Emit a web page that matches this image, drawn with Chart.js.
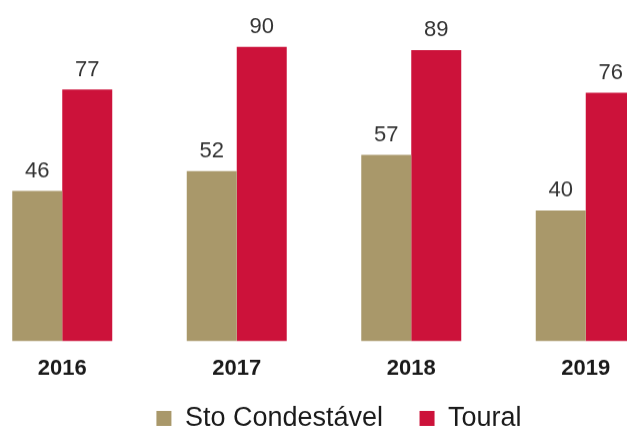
<!DOCTYPE html>
<html>
<head>
<meta charset="utf-8">
<script src="https://cdn.jsdelivr.net/npm/chart.js@4/dist/chart.umd.min.js"></script>
<style>
  html, body { margin: 0; padding: 0; width: 627px; height: 430px; overflow: hidden; background: #fff; }
  #wrap { position: absolute; left: -25px; top: 0; width: 728px; height: 468.5px; }
</style>
</head>
<body>
<div id="wrap"><canvas id="c"></canvas></div>
<script>
const categories = ['2016', '2017', '2018', '2019'];
const seriesNames = ['Sto Condestável', 'Toural'];
const stoCondestavel = [46, 52, 57, 40];
const toural = [77, 90, 89, 76];

const GOLD = '#A9986A';
const RED = '#CC123A';
const FONT = "'Liberation Sans', Arial, sans-serif";

const valueLabels = {
  id: 'valueLabels',
  afterDatasetsDraw(chart) {
    const ctx = chart.ctx;
    ctx.save();
    ctx.font = '22px ' + FONT;
    ctx.fillStyle = '#333333';
    ctx.textAlign = 'center';
    ctx.textBaseline = 'alphabetic';
    chart.data.datasets.forEach((ds, i) => {
      const meta = chart.getDatasetMeta(i);
      meta.data.forEach((el, j) => {
        ctx.fillText(String(ds.data[j]), el.x, el.y - 13.5);
      });
    });
    ctx.restore();
  }
};

// Legend sits a little closer to the axis labels than its padding allows
const legendShift = {
  id: 'legendShift',
  afterLayout(chart) {
    const lg = chart.legend;
    if (lg) { lg.top -= 27.5; lg.bottom -= 27.5; }
  }
};

new Chart(document.getElementById('c'), {
  type: 'bar',
  data: {
    labels: categories,
    datasets: [
      { label: seriesNames[0], data: stoCondestavel, backgroundColor: GOLD, borderWidth: 0 },
      { label: seriesNames[1], data: toural, backgroundColor: RED, borderWidth: 0 }
    ]
  },
  options: {
    responsive: true,
    maintainAspectRatio: false,
    animation: false,
    devicePixelRatio: 1,
    layout: { padding: 0 },
    datasets: { bar: { categoryPercentage: 0.573, barPercentage: 1.0 } },
    scales: {
      x: {
        grid: { display: false, drawTicks: false },
        border: { display: false },
        ticks: {
          padding: 14,
          color: '#1a1a1a',
          font: { family: FONT, size: 22, weight: 'bold' }
        }
      },
      y: {
        display: false,
        min: 0,
        max: 104.3
      },
      y2: {
        position: 'right',
        display: true,
        grid: { display: false, drawTicks: false },
        border: { display: false },
        ticks: { display: false },
        afterFit(s) { s.width = 30; }
      }
    },
    plugins: {
      tooltip: { enabled: false },
      legend: {
        position: 'bottom',
        align: 'center',
        labels: {
          boxWidth: 15,
          boxHeight: 15,
          padding: 36.5,
          color: '#1a1a1a',
          font: { family: FONT, size: 27 }
        }
      }
    }
  },
  plugins: [valueLabels, legendShift]
});
</script>
</body>
</html>
